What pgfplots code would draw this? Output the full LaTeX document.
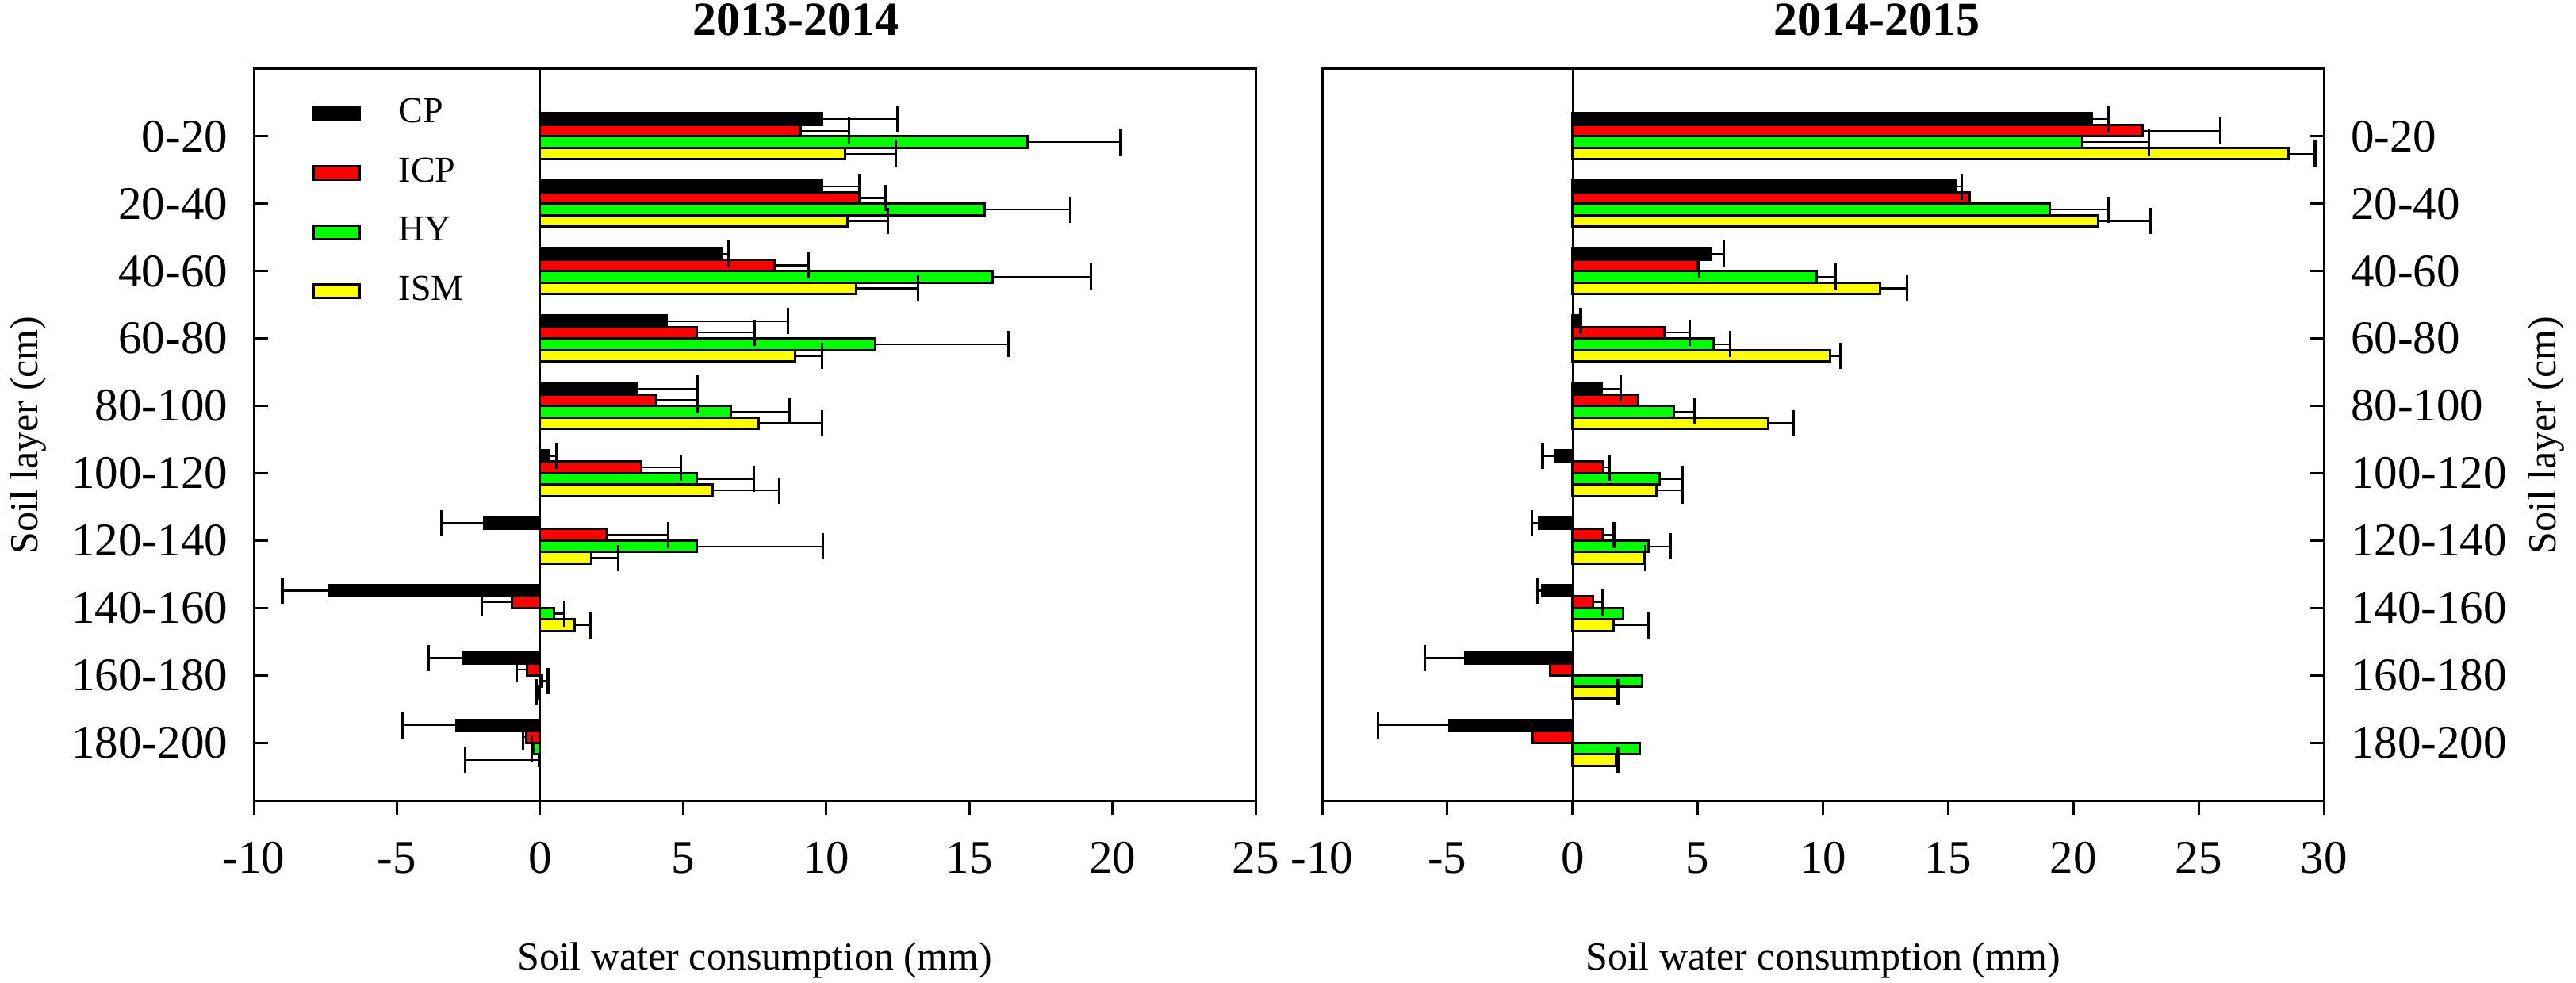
\documentclass[border=0pt]{standalone}
\usepackage{fontspec}
\setmainfont{Liberation Serif}
\usepackage{pgfplots}
\pgfplotsset{compat=1.18}
\definecolor{icpcol}{RGB}{255,0,0}
\definecolor{hycol}{RGB}{0,255,0}
\definecolor{ismcol}{RGB}{255,255,0}

\pgfplotsset{
 myaxis/.style={
  scale only axis, width=252.6pt, height=184.6pt,
  y dir=reverse, ymin=0, ymax=10.87,
  ytick={1,...,10},
  yticklabels={0-20,20-40,40-60,60-80,80-100,100-120,120-140,140-160,160-180,180-200},
  xbar, bar width=0.171,
  axis line style={line width=0.6pt},
  xtick align=outside, ytick align=inside, xtick pos=bottom,
  major tick length=3.5pt, tick style={black, line width=0.6pt},
  tick label style={font=\fontsize{11.8}{14}\selectfont},
  label style={font=\fontsize{11.8}{14}\selectfont},
  extra x ticks={0}, extra x tick labels={},
  extra x tick style={grid=major, major grid style={black, line width=0.45pt}, major tick length=0pt},
  every axis x label/.style={at={(axis description cs:0.5,0)}, anchor=center, yshift=-40pt},
  xticklabel style={anchor=center, yshift=-10.8pt},
 },
 mybar/.style={draw=black, line width=0.6pt, legend image code/.code={\draw[draw=black, line width=0.6pt, ##1] (0pt,-1.7pt) rectangle (11.6pt,1.7pt);}},
 errs/.style={forget plot, draw=none, fill=none,
   error bars/x dir=plus, error bars/x explicit,
   error bars/error mark=|,
   error bars/error bar style={black, line width=0.45pt, solid},
   error bars/error mark options={black, line width=0.65pt, mark size=3.3pt}},
}

\begin{document}
\begin{tikzpicture}
\useasboundingbox (0,0) rectangle (649.6pt,247.8pt);
% ---------------- 2013-2014 ----------------
\begin{axis}[myaxis, at={(64pt,45.8pt)}, anchor=south west,
  xmin=-10, xmax=25, xtick={-10,-5,0,5,10,15,20,25},
  xticklabels={-10,-5,0,5,10,15,20,25},
  ytick pos=left,
  yticklabel style={anchor=east, inner sep=0pt, xshift=-6.4pt},
  every axis y label/.style={at={(axis description cs:-0.225,0.5)}, rotate=90, anchor=center},
  ylabel={Soil layer (cm)},
  xlabel={Soil water consumption (mm)},
  title={2013-2014},
  every axis title/.style={at={(axis description cs:0.541,1)}, anchor=center, yshift=12.4pt, font=\fontsize{12}{14}\selectfont\bfseries},
  legend style={draw=none, fill=none, at={(axis description cs:0.058,0.972)}, anchor=north west,
    font=\fontsize{9.2}{11}\selectfont, row sep=3.4pt, inner sep=0pt,
    /tikz/every odd column/.append style={column sep=7.5pt}},
  legend cell align=left,
]
\addplot[mybar, fill=black, bar shift=-0.2565] coordinates {(9.86,1) (9.86,2) (6.36,3) (4.42,4) (3.39,5) (0.30,6) (-1.96,7) (-7.36,8) (-2.70,9) (-2.91,10)};
\addplot[mybar, fill=icpcol, bar shift=-0.0855] coordinates {(9.10,1) (11.15,2) (8.18,3) (5.48,4) (4.05,5) (3.53,6) (2.31,7) (-0.97,8) (-0.44,9) (-0.49,10)};
\addplot[mybar, fill=hycol, bar shift=0.0855] coordinates {(17.04,1) (15.54,2) (15.80,3) (11.71,4) (6.66,5) (5.48,6) (5.48,7) (0.49,8) (0.08,9) (-0.22,10)};
\addplot[mybar, fill=ismcol, bar shift=0.2565] coordinates {(10.66,1) (10.74,2) (11.04,3) (8.92,4) (7.65,5) (6.02,6) (1.78,7) (1.20,8) (-0.05,9) (-0.05,10)};
\legend{CP,ICP,HY,ISM}
\addplot[errs, bar shift=-0.2565] coordinates {(9.86,1) +- (2.64,0) (9.86,2) +- (1.29,0) (6.36,3) +- (0.23,0) (4.42,4) +- (4.24,0) (3.39,5) +- (2.10,0) (0.30,6) +- (0.27,0) (-1.96,7) +- (-1.47,0) (-7.36,8) +- (-1.64,0) (-2.70,9) +- (-1.20,0) (-2.91,10) +- (-1.89,0)};
\addplot[errs, bar shift=-0.0855] coordinates {(9.10,1) +- (1.69,0) (11.15,2) +- (0.92,0) (8.18,3) +- (1.20,0) (5.48,4) +- (2.03,0) (4.05,5) +- (1.44,0) (3.53,6) +- (1.40,0) (2.31,7) +- (2.16,0) (-0.97,8) +- (-1.07,0) (-0.44,9) +- (-0.37,0) (-0.49,10) +- (-0.10,0)};
\addplot[errs, bar shift=0.0855] coordinates {(17.04,1) +- (3.25,0) (15.54,2) +- (2.99,0) (15.80,3) +- (3.45,0) (11.71,4) +- (4.66,0) (6.66,5) +- (2.05,0) (5.48,6) +- (1.99,0) (5.48,7) +- (4.41,0) (0.49,8) +- (0.36,0) (0.08,9) +- (0.20,0) (-0.22,10) +- (-0.06,0)};
\addplot[errs, bar shift=0.2565] coordinates {(10.66,1) +- (1.77,0) (10.74,2) +- (1.42,0) (11.04,3) +- (2.16,0) (8.92,4) +- (0.94,0) (7.65,5) +- (2.21,0) (6.02,6) +- (2.34,0) (1.78,7) +- (0.96,0) (1.20,8) +- (0.57,0) (-0.05,9) +- (-0.08,0) (-0.05,10) +- (-2.57,0)};
\end{axis}
% ---------------- 2014-2015 ----------------
\begin{axis}[myaxis, at={(333.4pt,45.8pt)}, anchor=south west,
  xmin=-10, xmax=30, xtick={-10,-5,0,5,10,15,20,25,30},
  xticklabels={-10,-5,0,5,10,15,20,25,30},
  ytick pos=right, yticklabel pos=right,
  yticklabel style={anchor=west, inner sep=0pt, xshift=6.6pt},
  every axis y label/.style={at={(axis description cs:1.222,0.5)}, rotate=90, anchor=center},
  ylabel={Soil layer (cm)},
  xlabel={Soil water consumption (mm)},
  title={2014-2015},
  every axis title/.style={at={(axis description cs:0.554,1)}, anchor=center, yshift=12.4pt, font=\fontsize{12}{14}\selectfont\bfseries},
]
\addplot[mybar, fill=black, bar shift=-0.2565] coordinates {(20.72,1) (15.28,2) (5.52,3) (0.27,4) (1.17,5) (-0.67,6) (-1.33,7) (-1.20,8) (-4.27,9) (-4.91,10)};
\addplot[mybar, fill=icpcol, bar shift=-0.0855] coordinates {(22.75,1) (15.87,2) (4.99,3) (3.68,4) (2.61,5) (1.23,6) (1.20,7) (0.83,8) (-0.91,9) (-1.60,10)};
\addplot[mybar, fill=hycol, bar shift=0.0855] coordinates {(20.35,1) (19.07,2) (9.76,3) (5.63,4) (4.03,5) (3.47,6) (3.04,7) (2.03,8) (2.77,9) (2.69,10)};
\addplot[mybar, fill=ismcol, bar shift=0.2565] coordinates {(28.59,1) (20.99,2) (12.27,3) (10.27,4) (7.81,5) (3.36,6) (2.88,7) (1.65,8) (1.76,9) (1.73,10)};
\addplot[errs, bar shift=-0.2565] coordinates {(20.72,1) +- (0.67,0) (15.28,2) +- (0.27,0) (5.52,3) +- (0.53,0) (0.27,4) +- (0.05,0) (1.17,5) +- (0.75,0) (-0.67,6) +- (-0.53,0) (-1.33,7) +- (-0.30,0) (-1.20,8) +- (-0.19,0) (-4.27,9) +- (-1.62,0) (-4.91,10) +- (-2.85,0)};
\addplot[errs, bar shift=-0.0855] coordinates {(22.75,1) +- (3.12,0) (4.99,3) +- (0.08,0) (3.68,4) +- (0.99,0) (1.23,6) +- (0.26,0) (1.20,7) +- (0.45,0) (0.83,8) +- (0.37,0)};
\addplot[errs, bar shift=0.0855] coordinates {(20.35,1) +- (2.66,0) (19.07,2) +- (2.32,0) (9.76,3) +- (0.75,0) (5.63,4) +- (0.66,0) (4.03,5) +- (0.85,0) (3.47,6) +- (0.93,0) (3.04,7) +- (0.88,0)};
\addplot[errs, bar shift=0.2565] coordinates {(28.59,1) +- (1.06,0) (20.99,2) +- (2.10,0) (12.27,3) +- (1.09,0) (10.27,4) +- (0.42,0) (7.81,5) +- (1.02,0) (3.36,6) +- (1.04,0) (2.88,7) +- (0.03,0) (1.65,8) +- (1.39,0) (1.76,9) +- (0.05,0) (1.73,10) +- (0.08,0)};
\end{axis}
\end{tikzpicture}
\end{document}
